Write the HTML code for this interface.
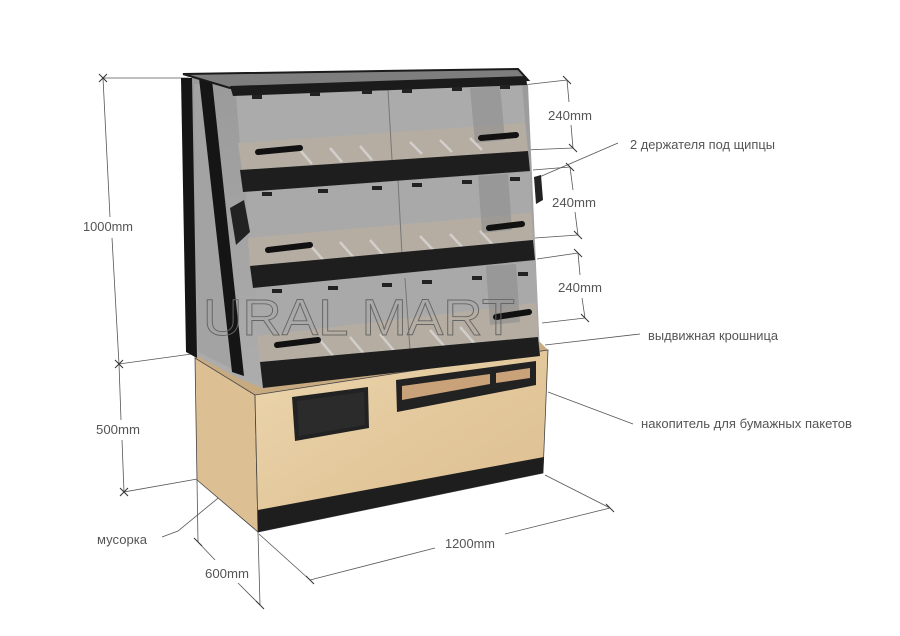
<!DOCTYPE html>
<html><head><meta charset="utf-8"><style>
html,body{margin:0;padding:0;background:#fff;}
svg{display:block}
text{font-family:"Liberation Sans",sans-serif;font-size:12.5px;fill:#555;}
</style></head><body>
<svg width="900" height="636" viewBox="0 0 900 636" xmlns="http://www.w3.org/2000/svg">
<defs>
<linearGradient id="wf" x1="0" y1="0" x2="1" y2="1">
<stop offset="0" stop-color="#ecd5ad"/><stop offset="0.5" stop-color="#e3c89c"/><stop offset="1" stop-color="#dcbf91"/>
</linearGradient>
<linearGradient id="gl" x1="0" y1="0" x2="0" y2="1">
<stop offset="0" stop-color="#9a9a9a"/><stop offset="1" stop-color="#adadad"/>
</linearGradient>
</defs>
<g stroke="#555" stroke-width="0.8" fill="none">
<line x1="103" y1="78" x2="189" y2="78"/>
<line x1="119" y1="364" x2="199" y2="353"/>
<line x1="124" y1="492" x2="203" y2="478"/>
<line x1="103" y1="78" x2="110" y2="217"/><line x1="112" y1="238" x2="119" y2="364"/>
<line x1="119" y1="364" x2="121" y2="420"/><line x1="122" y1="440" x2="124" y2="492"/>
<line x1="197" y1="480" x2="198" y2="542"/>
<line x1="258" y1="532" x2="260" y2="605"/>
<line x1="198" y1="542" x2="215" y2="560"/><line x1="238" y1="583" x2="260" y2="605"/>
<line x1="259" y1="534" x2="310" y2="580"/>
<line x1="545" y1="475" x2="610" y2="508"/>
<line x1="310" y1="580" x2="435" y2="548"/><line x1="505" y1="534" x2="610" y2="508"/>
<line x1="523" y1="85" x2="567" y2="80"/><line x1="525" y1="150" x2="573" y2="148"/>
<line x1="567" y1="80" x2="569" y2="102"/><line x1="571" y1="125" x2="573" y2="148"/>
<line x1="533" y1="170" x2="570" y2="167"/><line x1="535" y1="238" x2="578" y2="235"/>
<line x1="570" y1="167" x2="573" y2="190"/><line x1="575" y1="212" x2="578" y2="235"/>
<line x1="537" y1="259" x2="578" y2="253"/><line x1="542" y1="323" x2="585" y2="318"/>
<line x1="578" y1="253" x2="580" y2="275"/><line x1="582" y1="298" x2="585" y2="318"/>
<line x1="618" y1="143" x2="537" y2="178"/>
<line x1="640" y1="334" x2="545" y2="345"/>
<line x1="633" y1="424" x2="548" y2="392"/>
<polyline points="162,537 178,531 295,435"/>
</g>
<g stroke="#333" stroke-width="1">
<path d="M99 74l8 8M107 74l-8 8"/><path d="M115 360l8 8M123 360l-8 8"/><path d="M120 488l8 8M128 488l-8 8"/>
<path d="M194 538l8 8M256 601l8 8M306 576l8 8M606 504l8 8"/>
<path d="M563 76l8 8M569 144l8 8M566 163l8 8M574 231l8 8M574 249l8 8M581 314l8 8"/>
</g>
<polygon points="188,352 196,358 255,395 548,350 540,342 262,385 240,378 198,350" fill="#c7aa80"/>
<polygon points="195,358 255,395 258,532 197,480" fill="#dcc093" stroke="#444" stroke-width="0.8"/>
<polygon points="255,395 548,350 543,473 258,532" fill="url(#wf)" stroke="#444" stroke-width="0.8"/>
<polygon points="258,510 544,457 543,473 258,532" fill="#1e1e1e"/>
<polygon points="292,397 368,387 369,428 295,441" fill="#222" />
<polygon points="297,401 364,392 365,425 299,436" fill="#2b2b2b"/>
<polygon points="396,380 536,361 536,385 397,412" fill="#222"/>
<polygon points="402,386 490,374 490,384 402,400" fill="#c9a27a"/>
<polygon points="496,373 530,368 530,378 496,383" fill="#c9a27a"/>
<polygon points="183,78 520,72 528,85 540,355 262,388 238,378 195,355" fill="url(#gl)"/>
<polygon points="194,84 208,84 238,372 198,352" fill="#a3a3a3"/>
<polygon points="236,95 522,84 528,152 242,170" fill="#ababab"/>
<polygon points="238,143 525,123 528,152 242,170" fill="#b5ada2"/>
<polygon points="246,192 530,172 533,240 250,266" fill="#a9a9a9"/>
<polygon points="248,238 531,213 533,240 250,266" fill="#b5ada2"/>
<polygon points="255,288 535,261 538,337 260,362" fill="#a9a9a9"/>
<polygon points="257,336 536,303 538,337 260,362" fill="#b5ada2"/>
<g fill="#8e8e8e" opacity="0.6">
<polygon points="470,88 500,86 505,140 475,143"/><polygon points="478,176 508,174 512,230 482,233"/><polygon points="486,266 516,264 520,322 490,325"/>
</g>
<g stroke="#ddd" stroke-width="2.5" opacity="0.7">
<path d="M300 150l12 14M330 148l12 14M360 146l12 14M410 142l12 12M440 140l12 12M470 138l12 12"/>
<path d="M310 245l15 17M340 242l15 17M370 240l15 17M420 236l15 16M450 234l15 16M480 231l15 16"/>
<path d="M320 340l15 18M350 337l15 18M380 334l15 18M430 330l15 17M460 327l15 17"/>
</g>
<g stroke="#777" stroke-width="1"><line x1="388" y1="90" x2="392" y2="160"/><line x1="398" y1="180" x2="402" y2="255"/><line x1="405" y1="278" x2="410" y2="350"/></g>
<polygon points="181,78 192,78 197,358 186,352" fill="#151515"/>
<polygon points="199,78 212,80 244,376 232,372" fill="#151515"/>
<polygon points="183,74 518,69 528,80 230,88" fill="#7e7e7e" stroke="#1a1a1a" stroke-width="2"/>
<polygon points="230,86 526,76 527,85 233,96" fill="#1b1b1b"/>
<polygon points="240,170 528,151 530,171 243,192" fill="#1e1e1e"/>
<polygon points="250,266 533,240 535,260 253,288" fill="#1e1e1e"/>
<polygon points="260,362 538,337 540,356 263,388" fill="#1e1e1e"/>
<g stroke="#111" stroke-width="6" stroke-linecap="round">
<line x1="258" y1="152" x2="300" y2="148"/><line x1="481" y1="138" x2="516" y2="135"/>
<line x1="268" y1="250" x2="310" y2="245"/><line x1="489" y1="228" x2="522" y2="224"/>
<line x1="277" y1="345" x2="318" y2="340"/><line x1="496" y1="317" x2="529" y2="312"/>
</g>
<g fill="#222">
<rect x="252" y="95" width="10" height="4"/><rect x="310" y="92" width="10" height="4"/><rect x="362" y="90" width="10" height="4"/><rect x="402" y="89" width="10" height="4"/><rect x="452" y="87" width="10" height="4"/><rect x="500" y="85" width="10" height="4"/>
<rect x="262" y="192" width="10" height="4"/><rect x="318" y="189" width="10" height="4"/><rect x="372" y="186" width="10" height="4"/><rect x="412" y="183" width="10" height="4"/><rect x="462" y="180" width="10" height="4"/><rect x="510" y="177" width="10" height="4"/>
<rect x="272" y="289" width="10" height="4"/><rect x="328" y="286" width="10" height="4"/><rect x="382" y="283" width="10" height="4"/><rect x="422" y="280" width="10" height="4"/><rect x="472" y="276" width="10" height="4"/><rect x="518" y="272" width="10" height="4"/>
<polygon points="230,208 244,200 250,232 236,245"/>
<polygon points="534,177 541,175 543,200 536,204"/>
</g>
<text x="203" y="335" style="font-size:51px;fill:none;stroke:#666;stroke-width:0.9" textLength="312" lengthAdjust="spacingAndGlyphs">URAL MART</text>
<text x="83" y="231" textLength="50" lengthAdjust="spacingAndGlyphs">1000mm</text>
<text x="96" y="434" textLength="44" lengthAdjust="spacingAndGlyphs">500mm</text>
<text x="97" y="544" textLength="50" lengthAdjust="spacingAndGlyphs">мусорка</text>
<text x="205" y="578" textLength="44" lengthAdjust="spacingAndGlyphs">600mm</text>
<text x="445" y="548" textLength="50" lengthAdjust="spacingAndGlyphs">1200mm</text>
<text x="548" y="120" textLength="44" lengthAdjust="spacingAndGlyphs">240mm</text>
<text x="552" y="207" textLength="44" lengthAdjust="spacingAndGlyphs">240mm</text>
<text x="558" y="292" textLength="44" lengthAdjust="spacingAndGlyphs">240mm</text>
<text x="630" y="149" textLength="145" lengthAdjust="spacingAndGlyphs">2 держателя под щипцы</text>
<text x="648" y="340" textLength="130" lengthAdjust="spacingAndGlyphs">выдвижная крошница</text>
<text x="641" y="428" textLength="211" lengthAdjust="spacingAndGlyphs">накопитель для бумажных пакетов</text>
</svg>
</body></html>
